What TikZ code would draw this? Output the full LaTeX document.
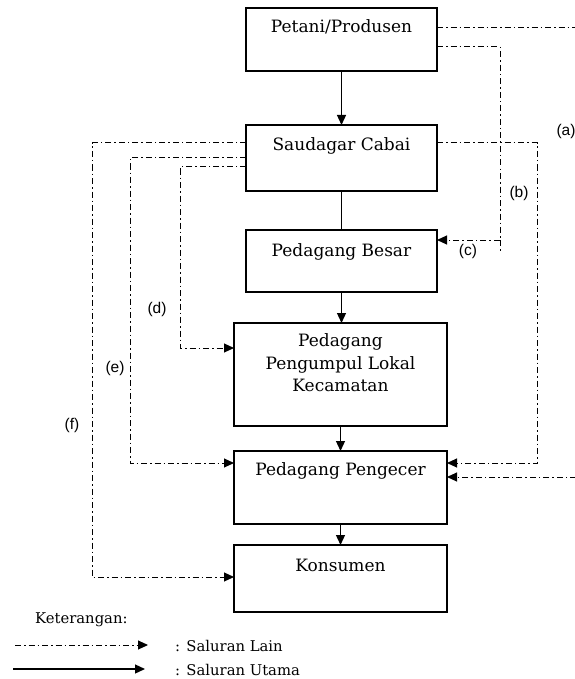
\documentclass[tikz,border=0pt]{standalone}
\usepackage{fontspec}
\setmainfont{DejaVu Serif}
\newfontfamily\labfont{Liberation Sans}
\usetikzlibrary{arrows.meta,calc}
\begin{document}
\begin{tikzpicture}[x=1pt,y=-1pt,
  box/.style={draw,line width=1.4pt,inner sep=0pt,outer sep=0pt},
  btext/.style={font=\fontsize{17}{22.5}\selectfont,anchor=base,inner sep=0pt},
  legtext/.style={font=\fontsize{14.8}{16}\selectfont,anchor=base west,inner sep=0pt},
  alt/.style={line width=1pt,dash pattern=on 6pt off 3pt on 1.5pt off 3pt},
  main/.style={line width=1.3pt},
  tip/.style={-{Triangle[length=10pt,width=9pt]}},
  lab/.style={font=\labfont\fontsize{15.5}{17}\selectfont,inner sep=0pt}]
\useasboundingbox (0,0) rectangle (574,679);
% boxes
\node[box,minimum width=191pt,minimum height=63pt] (P) at (341.5,39.5) {};
\node[box,minimum width=191pt,minimum height=66pt] (S) at (341.5,158) {};
\node[box,minimum width=191pt,minimum height=62pt] (B) at (341.5,261) {};
\node[box,minimum width=213pt,minimum height=103pt] (K) at (340.5,374.5) {};
\node[box,minimum width=213pt,minimum height=73pt] (E) at (340.5,487.5) {};
\node[box,minimum width=213pt,minimum height=67pt] (N) at (340.5,578.5) {};
% texts
\node[btext] (Pt) at ($(P.north)+(0,25)$) {Petani/Produsen};
\node[btext] (St) at ($(S.north)+(0,25)$) {Saudagar Cabai};
\node[btext] (Bt) at ($(B.north)+(0,26)$) {Pedagang Besar};
\node[btext] (Kt1) at ($(K.north)+(0,23)$) {Pedagang};
\node[btext] (Kt2) at ($(K.north)+(0,46)$) {Pengumpul Lokal};
\node[btext] (Kt3) at ($(K.north)+(0,68)$) {Kecamatan};
\node[btext] (Et) at ($(E.north)+(0,24)$) {Pedagang Pengecer};
\node[btext] (Nt) at ($(N.north)+(0,26)$) {Konsumen};
% main channel
\draw[main,tip] (P.south) -- (P.south |- S.north);
\draw[main] (S.south) -- (S.south |- B.north);
\draw[main,tip] (B.south) -- (B.south |- K.north);
\draw[main,tip] (K.south) -- (K.south |- E.north);
\draw[main,tip] (E.south) -- (E.south |- N.north);
% other channels
\coordinate (aT) at (576,28);
\coordinate (aB) at (576,477);
\draw[alt] (P.east |- aT) -- (aT);
\draw[alt,tip] (aB) -- (E.east |- aB);
\coordinate (cT) at (500,47);
\coordinate (cB) at (500,240);
\coordinate (cX) at (500,252);
\draw[alt,tip] (P.east |- cT) -- (cT) -- (cB) -- (B.east |- cB);
\draw[alt] (cB) -- (cX);
\coordinate (bT) at (537,143);
\coordinate (bB) at (537,463);
\draw[alt,tip] (S.east |- bT) -- (bT) -- (bB) -- (E.east |- bB);
\coordinate (fT) at (92,143);
\coordinate (fB) at (92,577);
\draw[alt,tip] (S.west |- fT) -- (fT) -- (fB) -- (N.west |- fB);
\coordinate (eT) at (130,158);
\coordinate (eB) at (130,463);
\draw[alt,tip] (S.west |- eT) -- (eT) -- (eB) -- (E.west |- eB);
\coordinate (dT) at (180,167);
\coordinate (dB) at (180,348);
\draw[alt,tip] (S.west |- dT) -- (dT) -- (dB) -- (K.west |- dB);
% labels
\node[lab] (la) at (566,131) {(a)};
\node[lab] (lb) at (519,193) {(b)};
\node[lab] (lc) at (468,251) {(c)};
\node[lab] (ld) at (157,309) {(d)};
\node[lab] (le) at (115,368) {(e)};
\node[lab] (lf) at (72,425) {(f)};
% legend
\node[legtext] (ket) at (35,623) {Keterangan:};
\coordinate (l1a) at (15,645);
\coordinate (l1b) at (148,645);
\draw[alt,tip] (l1a) -- (l1b);
\node[legtext] (lt1) at (175,651) {: Saluran Lain};
\coordinate (l2a) at (13,669);
\coordinate (l2b) at (145,669);
\draw[main,tip] (l2a) -- (l2b);
\node[legtext] (lt2) at (175,675) {: Saluran Utama};
\end{tikzpicture}
\end{document}
